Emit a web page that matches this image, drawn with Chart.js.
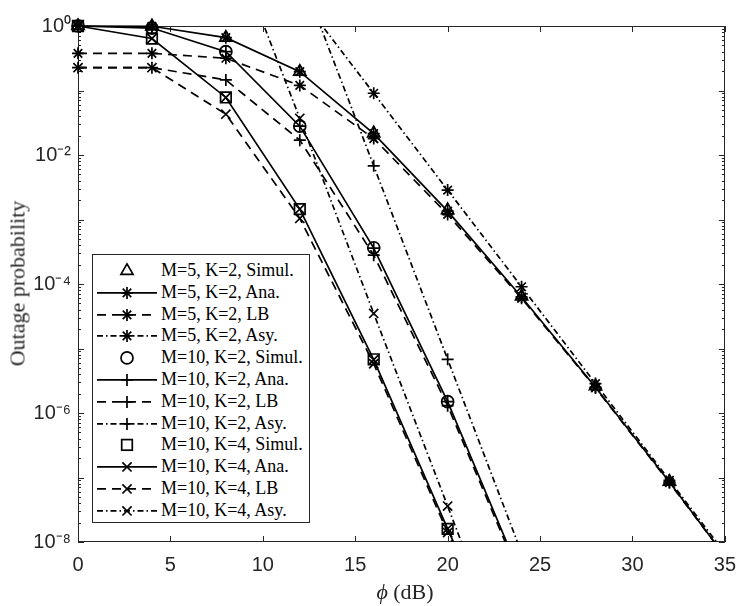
<!DOCTYPE html>
<html>
<head>
<meta charset="utf-8">
<script src="https://cdn.jsdelivr.net/npm/chart.js@4.4.0/dist/chart.umd.min.js"></script>
<style>
html,body{margin:0;padding:0;background:#fff;}
#wrap{position:relative;width:747px;height:606px;overflow:hidden;background:#fff;}
#c{position:absolute;left:0;top:0;}
#legend{position:absolute;left:92px;top:254px;width:216px;height:262px;padding-top:5px;border:1px solid #262626;background:#fff;
  font-family:"Liberation Serif","Times New Roman",serif;font-size:18px;color:#000;}
.row{position:relative;height:21.8px;}
.row svg{position:absolute;left:4px;top:0;}
.row span{position:absolute;left:68px;top:0;line-height:21.8px;white-space:nowrap;}
#xt{position:absolute;left:305px;top:579px;width:200px;text-align:center;font-family:"Liberation Serif","Times New Roman",serif;font-size:22px;line-height:25px;color:#262626;}
#yt{position:absolute;left:-133px;top:271px;width:300px;text-align:center;font-family:"Liberation Serif","Times New Roman",serif;font-size:22px;line-height:25px;color:#262626;transform:rotate(-90deg);transform-origin:50% 50%;}
</style>
</head>
<body>
<div id="wrap">
  <canvas id="c" width="747" height="606"></canvas>
  <div id="legend"></div>
  <div id="xt"><i>ϕ</i> (dB)</div>
  <div id="yt">Outage probability</div>
</div>
<script>
// ---- data ----
const phi = [0, 4, 8, 12, 16, 20, 24, 28, 32, 36];
const xTicks = [0, 5, 10, 15, 20, 25, 30, 35];
const yTicks = [1e-8, 1e-6, 1e-4, 1e-2, 1];

const m5k2Simul  = [1, 0.99, 0.66, 0.196, 0.0217, 1.4e-3, 6.4e-5, 2.6e-6, 8.6e-8, null];
const m5k2Ana    = [1, 0.99, 0.66, 0.196, 0.0215, 1.35e-3, 6.3e-5, 2.5e-6, 8.5e-8, 2.5e-9];
const m5k2LB     = [0.377, 0.377, 0.316, 0.12, 0.018, 1.2e-3, 6.0e-5, 2.45e-6, 8.3e-8, 2.5e-9];
const m5k2Asy    = [null, null, null, 2.86, 0.0906, 2.86e-3, 9.06e-5, 2.86e-6, 9.06e-8, 2.86e-9];

const m10k2Simul = [1, 0.93, 0.40, 0.028, 3.65e-4, 1.5e-6, null, null, null, null];
const m10k2Ana   = [1, 0.93, 0.40, 0.028, 3.6e-4, 1.5e-6, 2.8e-9, null, null, null];
const m10k2LB    = [0.226, 0.226, 0.146, 0.017, 2.8e-4, 1.3e-6, 2.5e-9, null, null, null];
const m10k2Asy   = [null, null, null, 6.8, 6.8e-3, 6.8e-6, 6.8e-9, null, null, null];

const m10k4Simul = [1, 0.64, 0.078, 1.45e-3, 6.8e-6, 1.6e-8, null, null, null, null];
const m10k4Ana   = [1, 0.64, 0.078, 1.45e-3, 6.7e-6, 1.6e-8, 4e-11, null, null, null];
const m10k4LB    = [0.226, 0.226, 0.043, 1.04e-3, 5.8e-6, 1.4e-8, 3e-11, null, null, null];
const m10k4Asy   = [null, null, 34, 0.037, 3.5e-5, 3.6e-8, 3.6e-11, null, null, null];

const labels = [
  "M=5, K=2, Simul.", "M=5, K=2, Ana.", "M=5, K=2, LB", "M=5, K=2, Asy.",
  "M=10, K=2, Simul.", "M=10, K=2, Ana.", "M=10, K=2, LB", "M=10, K=2, Asy.",
  "M=10, K=4, Simul.", "M=10, K=4, Ana.", "M=10, K=4, LB", "M=10, K=4, Asy."
];
const seriesValues = [
  m5k2Simul, m5k2Ana, m5k2LB, m5k2Asy,
  m10k2Simul, m10k2Ana, m10k2LB, m10k2Asy,
  m10k4Simul, m10k4Ana, m10k4LB, m10k4Asy
];

// ---- styles ----
const lineKinds = ['none','solid','dash','dashdot'];
const markers = ['triangle','star','star','star','circle','cross','cross','cross','rect','crossRot','crossRot','crossRot'];
const markerRadius = {triangle:7, star:6, circle:6, cross:6, rect:7.5, crossRot:6.5};
const dashFor = {none:[], solid:[], dash:[9,6], dashdot:[6,3,1.5,3]};
const LW = 1.7;

const datasets = labels.map((lab, i) => {
  const kind = lineKinds[i % 4];
  const ps = markers[i];
  const vals = seriesValues[i];
  const pts = [];
  phi.forEach((p, j) => { if (vals[j] !== null) pts.push({x: p, y: vals[j]}); });
  return {
    label: lab,
    data: pts,
    showLine: kind !== 'none',
    borderColor: '#000',
    backgroundColor: 'rgba(0,0,0,0)',
    borderWidth: LW,
    borderDash: dashFor[kind],
    pointStyle: ps,
    pointRadius: markerRadius[ps],
    pointHoverRadius: markerRadius[ps],
    pointBorderColor: '#000',
    pointBackgroundColor: 'rgba(0,0,0,0)',
    pointBorderWidth: LW,
    tension: 0,
    clip: kind === 'dashdot' ? {left:0, top:0, right:0, bottom:0} : {left:12, top:12, right:0, bottom:0}
  };
});

const sup = {'0':'⁰','1':'¹','2':'²','3':'³','4':'⁴','5':'⁵','6':'⁶','7':'⁷','8':'⁸','9':'⁹','-':'⁻'};
function powLabel(v){
  const e = Math.round(Math.log10(v));
  return '10' + String(e).split('').map(c => sup[c]).join('');
}

const frame = {
  id: 'frame',
  beforeDatasetsDraw(chart){
    const {ctx, chartArea: a, scales: {x, y}} = chart;
    ctx.save();
    ctx.strokeStyle = '#262626';
    ctx.lineWidth = 1;
    ctx.beginPath();
    xTicks.forEach(v => {
      const px = Math.round(x.getPixelForValue(v)) + 0.5;
      ctx.moveTo(px, a.bottom); ctx.lineTo(px, a.bottom - 6);
      ctx.moveTo(px, a.top); ctx.lineTo(px, a.top + 6);
    });
    for (let e = -8; e <= 0; e++) {
      for (let m = 1; m <= 9; m++) {
        const v = m * Math.pow(10, e);
        if (v > 1.0000001) break;
        const py = Math.round(y.getPixelForValue(v)) + 0.5;
        const len = m === 1 ? 6 : 3;
        ctx.moveTo(a.left, py); ctx.lineTo(a.left + len, py);
        ctx.moveTo(a.right, py); ctx.lineTo(a.right - len, py);
      }
    }
    ctx.stroke();
    ctx.strokeRect(Math.round(a.left) + 0.5, Math.round(a.top) + 0.5,
                   Math.round(a.right - a.left) - 1, Math.round(a.bottom - a.top) - 1);
    ctx.restore();
  }
};

new Chart(document.getElementById('c'), {
  type: 'scatter',
  data: { datasets },
  options: {
    responsive: false,
    animation: false,
    events: [],
    layout: { padding: { left: 0, top: 26, right: 15, bottom: 0 } },
    plugins: { legend: { display: false }, tooltip: { enabled: false } },
    scales: {
      x: {
        type: 'linear', min: 0, max: 35,
        grid: { display: false, drawTicks: false },
        border: { display: false },
        afterBuildTicks: s => { s.ticks = xTicks.map(v => ({value: v})); },
        afterFit: s => { s.height = 64; },
        ticks: { padding: 11, color: '#262626', font: { family: 'Liberation Sans, Arial, sans-serif', size: 20 }, maxRotation: 0 }
      },
      y: {
        type: 'logarithmic', min: 1e-8, max: 1,
        grid: { display: false, drawTicks: false },
        border: { display: false },
        afterBuildTicks: s => { s.ticks = yTicks.map(v => ({value: v})); },
        afterFit: s => { s.width = 78; },
        ticks: { padding: 7, color: '#262626', font: { family: 'Liberation Sans, Arial, sans-serif', size: 20 },
                 callback: v => powLabel(v) }
      }
    }
  },
  plugins: [frame]
});

// ---- legend (HTML, built from the labels and styles) ----
function markerSvg(ps, cx, cy){
  const r = markerRadius[ps];
  const st = `stroke="#000" stroke-width="${LW}" fill="none"`;
  if (ps === 'triangle') {
    const p = [0, 1, 2].map(k => {
      const ang = k * 2 * Math.PI / 3;
      return (cx + Math.sin(ang) * r).toFixed(2) + ',' + (cy - Math.cos(ang) * r).toFixed(2);
    }).join(' ');
    return `<polygon points="${p}" ${st}/>`;
  }
  if (ps === 'circle') return `<circle cx="${cx}" cy="${cy}" r="${r}" ${st}/>`;
  if (ps === 'rect') { const s = r * Math.SQRT1_2; return `<rect x="${cx - s}" y="${cy - s}" width="${2 * s}" height="${2 * s}" ${st}/>`; }
  const plus = `<path d="M${cx - r} ${cy}H${cx + r}M${cx} ${cy - r}V${cy + r}" ${st}/>`;
  const d = r * Math.SQRT1_2;
  const rot = `<path d="M${cx - d} ${cy - d}L${cx + d} ${cy + d}M${cx - d} ${cy + d}L${cx + d} ${cy - d}" ${st}/>`;
  if (ps === 'cross') return plus;
  if (ps === 'crossRot') return rot;
  return plus + rot;
}
const leg = document.getElementById('legend');
labels.forEach((lab, i) => {
  const kind = lineKinds[i % 4];
  const ps = markers[i];
  let line = '';
  if (kind !== 'none') {
    const da = dashFor[kind].length ? `stroke-dasharray="${dashFor[kind].join(' ')}"` : '';
    line = `<line x1="0" y1="10.9" x2="60" y2="10.9" stroke="#000" stroke-width="${LW}" ${da}/>`;
  }
  const row = document.createElement('div');
  row.className = 'row';
  row.innerHTML = `<svg width="60" height="21.8" viewBox="0 0 60 21.8">${line}${markerSvg(ps, 30, 10.9)}</svg><span>${lab}</span>`;
  leg.appendChild(row);
});
</script>
</body>
</html>
